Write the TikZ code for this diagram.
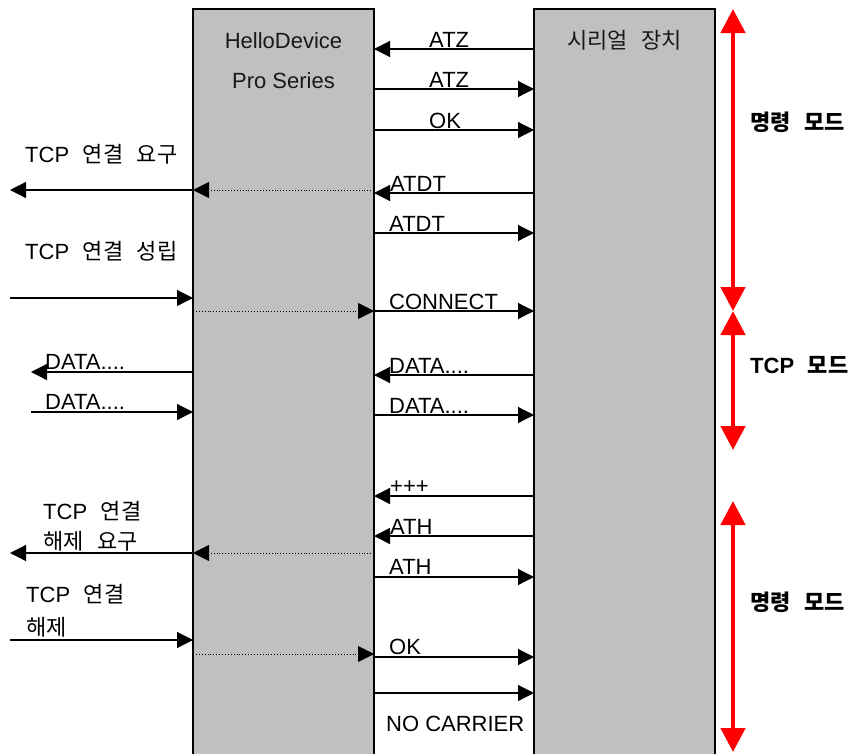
\documentclass[tikz,border=0pt]{standalone}
\usepackage{fontspec}
\setmainfont{Liberation Sans}
\newfontfamily\kr{Noto Sans CJK KR}
\newcommand{\ksp}{\hspace{0.62em}}
\usetikzlibrary{arrows.meta, positioning}
\definecolor{unitgray}{RGB}{192,192,192}

\begin{document}
\begin{tikzpicture}[x=1pt, y=-1pt,
        unit/.style={draw, line width=1.2pt, fill=unitgray, minimum width=181pt, minimum height=800pt, inner sep=0pt, outer sep=0pt},
        title/.style={anchor=base, inner sep=0pt, font=\fontsize{22}{26}\selectfont, text=black!90},
        lbl/.style={anchor=base west, inner sep=0pt, font=\fontsize{22}{26}\selectfont},
        modelbl/.style={anchor=west, inner sep=0pt, font=\bfseries\fontsize{22}{26}\selectfont},
        msg/.style={-{Triangle[length=16pt, width=16pt]}, line width=1.2pt},
        relay/.style={-{Triangle[length=16pt, width=16pt]}, line width=0.9pt, dotted},
        mode/.style={{Triangle[length=24pt, width=24pt]}-{Triangle[length=24pt, width=24pt]}, red, line width=4.5pt}
    ]
    \useasboundingbox (0,0) rectangle (857,753);

    % the two units
    \node[unit, anchor=north west] (hd) at (193,9) {};
    \node[unit, right=160pt of hd.north east, anchor=north west] (ser) {};
    \node[title] (hdname) at ([yshift=-39pt]hd.north) {HelloDevice};
    \node[title] (hdseries) at ([yshift=-40pt]hdname.base) {Pro Series};
    \node[title] (sername) at ([yshift=-39pt]ser.north) {\kr 시리얼\ksp 장치};

    % free ends on the network side
    \coordinate (net) at (10,0);
    \coordinate (netdata) at (31,0);

    % serial side
    \draw[msg] (ser.west |- 0,49) -- (hd.east |- 0,49);
    \node[lbl] (atzin) at (429,47) {ATZ};
    \draw[msg] (hd.east |- 0,89) -- (ser.west |- 0,89);
    \node[lbl] (atzout) at (429,87) {ATZ};
    \draw[msg] (hd.east |- 0,130) -- (ser.west |- 0,130);
    \node[lbl] (okfirst) at (429,128) {OK};
    \draw[msg] (ser.west |- 0,193) -- (hd.east |- 0,193);
    \node[lbl] (atdtin) at (390,191) {ATDT};
    \draw[msg] (hd.east |- 0,233) -- (ser.west |- 0,233);
    \node[lbl] (atdtout) at (389,231) {ATDT};
    \draw[msg] (hd.east |- 0,311) -- (ser.west |- 0,311);
    \node[lbl] (connect) at (389,309) {CONNECT};
    \draw[msg] (ser.west |- 0,375) -- (hd.east |- 0,375);
    \node[lbl] (datain) at (389,373) {DATA....};
    \draw[msg] (hd.east |- 0,415) -- (ser.west |- 0,415);
    \node[lbl] (dataout) at (389,413) {DATA....};
    \draw[msg] (ser.west |- 0,496) -- (hd.east |- 0,496);
    \node[lbl] (escape) at (390,493) {+++};
    \draw[msg] (ser.west |- 0,536) -- (hd.east |- 0,536);
    \node[lbl] (athin) at (390,534) {ATH};
    \draw[msg] (hd.east |- 0,577) -- (ser.west |- 0,577);
    \node[lbl] (athout) at (389,574) {ATH};
    \draw[msg] (hd.east |- 0,657) -- (ser.west |- 0,657);
    \node[lbl] (oklast) at (389,654) {OK};
    \draw[msg] (hd.east |- 0,693) -- (ser.west |- 0,693);
    \node[lbl] (nocarrier) at (386,731) {NO CARRIER};

    % network side
    \node[lbl] (req) at (25,162) {TCP\ksp{\kr 연결\ksp 요구}};
    \draw[relay] (hd.east |- 0,190) -- (hd.west |- 0,190);
    \draw[msg] (hd.west |- 0,190) -- (net |- 0,190);
    \node[lbl] (est) at (25,259) {TCP\ksp{\kr 연결\ksp 성립}};
    \draw[msg] (net |- 0,298) -- (hd.west |- 0,298);
    \draw[relay] (hd.west |- 0,311) -- (hd.east |- 0,311);
    \node[lbl] (netin) at (45,369) {DATA....};
    \draw[msg] (hd.west |- 0,372) -- (netdata |- 0,372);
    \node[lbl] (netout) at (45,409) {DATA....};
    \draw[msg] (netdata |- 0,412) -- (hd.west |- 0,412);
    \node[lbl] (closereq) at (43,519) {TCP\ksp{\kr 연결}};
    \node[lbl] (closereqb) at (43,549) {\kr 해제\ksp 요구};
    \draw[relay] (hd.east |- 0,553) -- (hd.west |- 0,553);
    \draw[msg] (hd.west |- 0,553) -- (net |- 0,553);
    \node[lbl] (closed) at (26,602) {TCP\ksp{\kr 연결}};
    \node[lbl] (closedb) at (26,635) {\kr 해제};
    \draw[msg] (net |- 0,640) -- (hd.west |- 0,640);
    \draw[relay] (hd.west |- 0,654) -- (hd.east |- 0,654);

    % modes
    \coordinate (cmdtop) at (733,9);
    \coordinate (tcptop) at (733,311);
    \coordinate (tcpbot) at (733,450);
    \coordinate (cmdagain) at (733,501);
    \coordinate (cmdend) at (733,752);
    \draw[mode] (cmdtop) -- (tcptop);
    \draw[mode] (tcptop) -- (tcpbot);
    \draw[mode] (cmdagain) -- (cmdend);
    \node[modelbl] (cmdmode) at (750,122) {\kr 명령\ksp 모드};
    \node[modelbl] (tcpmode) at (750,365) {TCP\ksp{\kr 모드}};
    \node[modelbl] (cmdmodeb) at (750,602) {\kr 명령\ksp 모드};
\end{tikzpicture}
\end{document}
